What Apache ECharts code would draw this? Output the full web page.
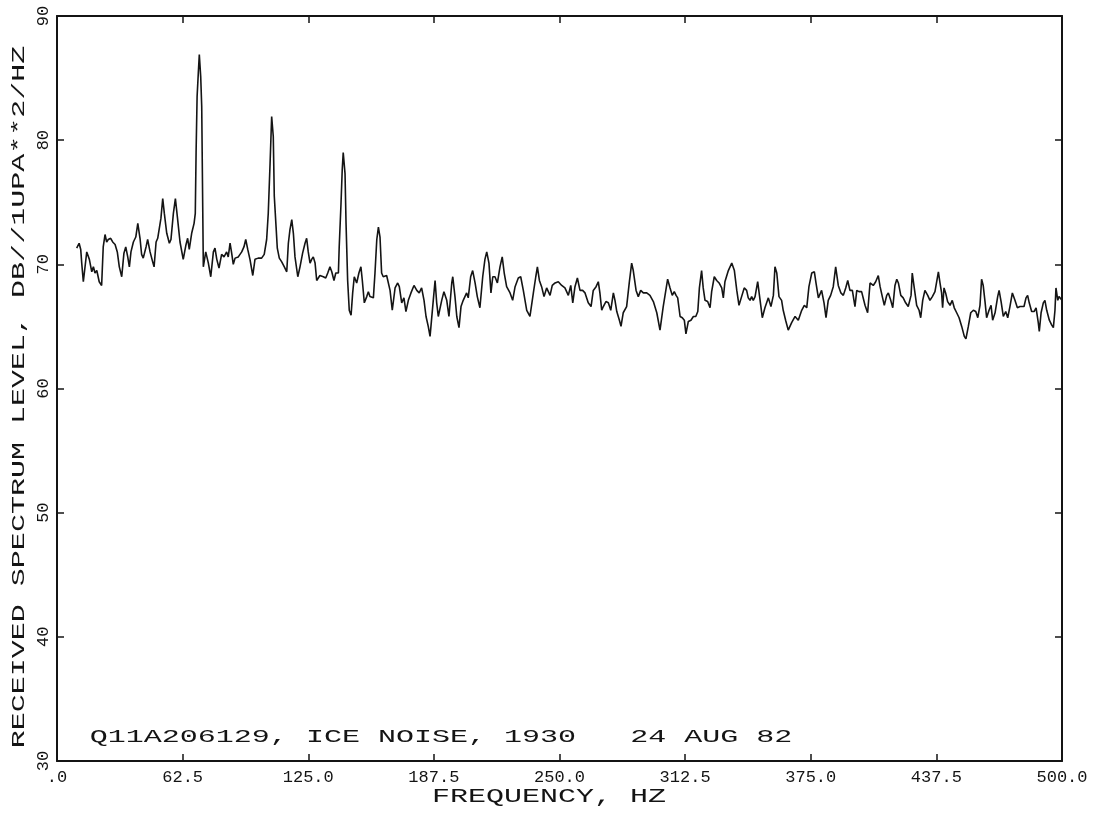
<!DOCTYPE html>
<html>
<head>
<meta charset="utf-8">
<script src="https://cdn.jsdelivr.net/npm/echarts@6/dist/echarts.min.js"></script>
<style>
  html, body { margin: 0; padding: 0; background: #fff; }
  #chart { width: 1120px; height: 813px; }
</style>
</head>
<body>
<div id="chart"></div>
<script>
// Received ice-noise spectrum, frequency (Hz) against level (dB re 1 uPa^2/Hz)
const freqHz = [
  9.8, 11.0, 11.8, 12.3, 13.1, 14.8, 16.1, 17.3, 18.1, 18.9,
  19.8, 21.0, 22.2, 23.0, 23.9, 24.7, 25.5, 26.7, 27.7, 28.9,
  30.0, 31.0, 32.2, 33.3, 34.2, 35.2, 36.0, 36.8, 38.0, 39.2,
  40.2, 41.3, 42.1, 42.9, 44.3, 45.1, 46.3, 47.6, 48.3, 49.3,
  50.1, 50.9, 51.7, 52.6, 53.4, 54.6, 55.9, 56.7, 57.9, 58.9,
  59.9, 61.2, 62.8, 64.2, 65.0, 65.8, 67.0, 68.2, 68.8, 69.2,
  69.7, 70.3, 70.8, 71.5, 72.0, 72.5, 72.8, 74.0, 75.3, 76.5,
  77.8, 78.6, 79.5, 80.6, 81.9, 83.1, 84.4, 85.2, 86.1, 86.9,
  87.7, 88.6, 90.2, 91.9, 93.0, 93.9, 94.9, 96.0, 97.4, 98.5,
  100.1, 101.8, 103.1, 104.3, 105.1, 106.0, 106.8, 107.6, 108.1, 109.0,
  109.6, 110.6, 111.8, 113.1, 114.3, 115.1, 115.9, 116.8, 117.6, 118.4,
  119.8, 120.9, 122.2, 123.4, 124.2, 125.0, 125.9, 126.7, 127.5, 128.4,
  129.2, 130.8, 132.5, 133.7, 134.7, 135.8, 136.7, 137.8, 138.7, 140.0,
  140.4, 141.3, 141.9, 142.4, 143.3, 143.8, 144.6, 145.4, 146.3, 147.1,
  147.9, 149.1, 150.2, 151.2, 151.9, 152.9, 154.1, 154.9, 155.7, 157.4,
  158.2, 159.1, 159.9, 160.7, 161.5, 162.3, 164.0, 164.8, 165.7, 166.8,
  168.2, 169.5, 170.3, 171.5, 172.6, 173.6, 174.8, 176.1, 177.6, 179.0,
  180.2, 181.4, 182.6, 183.6, 184.7, 185.6, 187.2, 188.1, 188.9, 189.7,
  191.4, 192.5, 193.9, 195.0, 196.4, 196.9, 198.0, 198.9, 200.0, 201.0,
  202.1, 203.8, 204.6, 205.8, 206.8, 208.0, 209.1, 210.4, 211.8, 212.9,
  213.8, 214.9, 215.9, 216.8, 217.9, 219.1, 220.4, 221.5, 222.5, 223.7,
  225.4, 226.7, 227.9, 229.5, 230.7, 232.0, 233.7, 235.3, 237.0, 238.2,
  239.0, 240.0, 241.1, 242.3, 243.6, 245.3, 246.4, 247.8, 249.4, 251.1,
  252.7, 254.4, 255.6, 256.6, 257.7, 258.9, 260.2, 261.5, 262.7, 264.3,
  265.7, 266.8, 268.2, 269.3, 270.1, 271.0, 271.8, 273.1, 274.3, 275.5,
  276.8, 277.6, 278.5, 279.8, 280.6, 281.7, 283.4, 284.7, 285.9, 286.7,
  288.1, 289.2, 290.4, 291.7, 293.4, 295.0, 296.7, 298.4, 300.0, 301.6,
  303.8, 305.0, 306.1, 307.1, 308.0, 308.8, 310.0, 311.1, 312.1, 312.9,
  314.1, 315.4, 316.6, 317.8, 318.8, 319.6, 320.7, 321.5, 322.4, 323.7,
  324.9, 325.7, 327.0, 328.2, 329.4, 330.7, 331.5, 332.3, 334.0, 335.7,
  337.0, 338.2, 339.3, 340.6, 341.9, 343.1, 343.9, 344.8, 345.6, 346.4,
  347.3, 348.6, 349.8, 350.9, 352.2, 353.9, 355.2, 356.4, 357.2, 358.1,
  359.2, 360.5, 361.3, 362.5, 363.8, 365.5, 367.2, 368.8, 370.5, 371.8,
  373.0, 374.1, 375.5, 376.8, 377.6, 378.8, 380.4, 381.6, 382.6, 383.7,
  384.9, 386.2, 387.4, 388.7, 390.0, 391.2, 392.4, 393.4, 394.5, 395.7,
  397.0, 397.9, 399.0, 400.3, 401.1, 402.0, 403.3, 404.5, 406.1, 407.3,
  408.6, 409.5, 410.6, 411.6, 412.8, 413.6, 414.8, 415.8, 416.9, 417.8,
  418.6, 419.8, 421.0, 422.2, 423.5, 424.9, 425.5, 426.5, 427.7, 428.9,
  429.7, 430.7, 431.8, 433.2, 434.3, 435.5, 436.8, 438.5, 439.3, 440.1,
  440.6, 441.3, 442.1, 443.1, 444.3, 445.4, 446.4, 447.6, 448.8, 450.1,
  451.4, 452.2, 453.4, 454.6, 455.9, 457.1, 458.1, 459.2, 460.0, 460.8,
  461.7, 462.5, 463.7, 464.7, 465.5, 466.7, 468.0, 468.7, 469.7, 470.8,
  472.0, 473.0, 474.1, 475.3, 476.6, 477.8, 479.1, 480.0, 481.1, 482.1,
  482.9, 483.7, 484.9, 486.1, 487.1, 488.2, 488.7, 489.6, 490.7, 491.5,
  492.4, 493.7, 494.9, 495.7, 496.5, 497.0, 497.9, 498.5, 500.0
];

const levelDb = [
  71.3, 71.7, 71.2, 70.1, 68.6, 71.0, 70.4, 69.4, 69.8, 69.3,
  69.5, 68.6, 68.3, 71.4, 72.4, 71.8, 72.0, 72.1, 71.8, 71.6,
  71.0, 69.8, 69.0, 70.9, 71.4, 70.6, 69.8, 71.0, 71.8, 72.2,
  73.3, 72.1, 70.8, 70.5, 71.4, 72.0, 71.0, 70.2, 69.8, 71.8,
  72.1, 72.0, 73.7, 75.3, 74.1, 72.5, 71.7, 72.0, 74.1, 75.3,
  73.8, 71.8, 70.4, 71.6, 72.1, 71.2, 72.5, 73.3, 74.1, 79.0,
  83.5, 85.4, 86.9, 85.1, 82.7, 74.6, 69.8, 71.0, 70.1, 69.0,
  71.0, 71.3, 70.4, 69.7, 70.8, 70.6, 71.0, 70.6, 71.7, 70.9,
  70.0, 70.5, 70.6, 71.0, 71.4, 72.0, 71.2, 70.4, 69.1, 70.4,
  70.5, 70.5, 70.8, 72.0, 74.1, 78.1, 81.9, 80.3, 75.5, 73.0,
  71.3, 70.5, 70.2, 69.8, 69.4, 71.7, 72.8, 73.6, 72.5, 70.6,
  69.0, 69.8, 70.9, 71.7, 72.1, 71.0, 70.1, 70.4, 70.6, 70.1,
  68.7, 69.1, 69.0, 68.9, 69.3, 69.8, 69.4, 68.7, 69.3, 69.3,
  71.4, 74.9, 77.6, 79.0, 77.3, 73.3, 68.7, 66.3, 65.9, 67.7,
  69.0, 68.5, 69.3, 69.8, 68.7, 66.9, 67.4, 67.8, 67.4, 67.3,
  69.3, 72.0, 73.0, 72.2, 69.3, 69.0, 69.1, 69.0, 67.9, 66.3,
  68.1, 68.5, 68.2, 66.9, 67.3, 66.2, 67.1, 67.7, 68.3, 67.9,
  67.7, 68.1, 67.1, 65.8, 65.0, 64.2, 67.1, 68.7, 66.9, 65.8,
  67.1, 67.8, 67.1, 65.8, 68.5, 69.0, 67.4, 65.8, 64.9, 66.6,
  67.1, 67.7, 67.3, 69.0, 69.5, 68.5, 67.4, 66.5, 69.0, 70.4,
  71.0, 70.1, 67.7, 69.0, 69.0, 68.5, 69.8, 70.6, 69.3, 68.2,
  67.7, 67.1, 68.2, 68.9, 69.0, 67.9, 66.3, 65.8, 67.7, 69.0,
  69.8, 68.7, 68.2, 67.4, 68.1, 67.5, 68.3, 68.5, 68.6, 68.3,
  68.1, 67.5, 68.3, 66.9, 68.2, 68.9, 67.9, 67.9, 67.7, 66.9,
  66.6, 67.9, 68.2, 68.6, 67.7, 66.3, 66.6, 67.0, 66.9, 66.3,
  67.7, 67.1, 66.2, 65.5, 65.0, 66.1, 66.6, 68.5, 70.1, 69.5,
  67.9, 67.4, 67.9, 67.7, 67.7, 67.5, 67.0, 66.1, 64.7, 66.6,
  68.8, 68.1, 67.5, 67.8, 67.5, 67.3, 65.8, 65.7, 65.5, 64.4,
  65.4, 65.5, 65.8, 65.8, 66.2, 68.1, 69.5, 68.1, 67.1, 67.0,
  66.5, 67.8, 69.0, 68.7, 68.5, 68.1, 67.3, 68.6, 69.5, 70.1,
  69.5, 67.9, 66.7, 67.4, 68.1, 67.9, 67.3, 67.1, 67.4, 67.1,
  67.4, 68.6, 67.1, 65.7, 66.5, 67.3, 66.6, 67.5, 69.8, 69.3,
  67.4, 67.1, 66.3, 65.5, 64.7, 65.3, 65.8, 65.5, 66.3, 66.7,
  66.5, 68.2, 69.3, 69.4, 68.5, 67.3, 67.9, 66.9, 65.7, 67.1,
  67.5, 68.2, 69.8, 68.3, 67.7, 67.5, 68.1, 68.7, 67.9, 67.9,
  66.6, 67.9, 67.8, 67.8, 67.7, 66.7, 66.1, 68.5, 68.3, 68.6,
  69.1, 68.2, 67.4, 66.7, 67.5, 67.7, 67.1, 66.5, 68.3, 68.8,
  68.5, 67.5, 67.3, 66.9, 66.6, 67.5, 69.3, 68.1, 66.7, 66.3,
  65.7, 67.1, 67.9, 67.5, 67.1, 67.4, 67.8, 69.4, 68.5, 67.7,
  66.5, 68.1, 67.7, 67.0, 66.7, 67.1, 66.5, 66.1, 65.7, 65.0,
  64.2, 64.0, 65.0, 66.1, 66.3, 66.2, 65.7, 66.7, 68.8, 68.3,
  67.0, 65.7, 66.3, 66.7, 65.5, 66.1, 67.4, 67.9, 67.0, 65.8,
  66.2, 65.7, 66.6, 67.7, 67.1, 66.5, 66.6, 66.7, 66.6, 67.3,
  67.5, 66.9, 66.2, 66.2, 66.5, 65.3, 64.6, 66.1, 66.9, 67.1,
  66.3, 65.5, 65.1, 64.9, 66.3, 68.1, 67.1, 67.4, 67.1
];

// axis tick labels, one per tick (x every 62.5 Hz, y every 10 dB)
const xTickLabels = ['.0', '62.5', '125.0', '187.5', '250.0', '312.5', '375.0', '437.5', '500.0'];
const yTickLabels = ['30', '40', '50', '60', '70', '80', '90'];

const yTitle = 'RECEIVED SPECTRUM LEVEL, DB//1UPA**2/HZ';
const xTitle = 'FREQUENCY, HZ';
const runNote = 'Q11A206129, ICE NOISE, 1930   24 AUG 82';

const INK = '#141414';
const FONT = "'Liberation Mono', 'DejaVu Sans Mono', monospace";

const points = freqHz.map((f, i) => [f, levelDb[i]]);

const frameAxis = {
  axisLine: { show: true, onZero: false, lineStyle: { color: INK, width: 2 } },
  axisTick: { show: true, inside: true, length: 7, lineStyle: { color: INK, width: 1.5 } },
  splitLine: { show: false }
};

function textEl(x, y, rotation, scaleX, text, size) {
  return {
    type: 'text', x: x, y: y, rotation: rotation, scaleX: scaleX, scaleY: 1, silent: true,
    style: {
      text: text, fontFamily: FONT, fontSize: size, fill: INK,
      align: 'center', verticalAlign: 'middle',
      textAlign: 'center', textVerticalAlign: 'middle'
    }
  };
}

const chart = echarts.init(document.getElementById('chart'), null, { renderer: 'canvas' });
chart.setOption({
  animation: false,
  backgroundColor: '#ffffff',
  grid: { left: 57, right: 58, top: 16, bottom: 52, containLabel: false },
  xAxis: [
    Object.assign({
      type: 'value', position: 'bottom', min: 0, max: 500, interval: 62.5,
      axisLabel: {
        color: INK, fontFamily: FONT, fontSize: 17, margin: 8,
        showMinLabel: true, showMaxLabel: true,
        formatter: v => xTickLabels[Math.round(v / 62.5)]
      }
    }, frameAxis),
    Object.assign({
      type: 'value', position: 'top', min: 0, max: 500, interval: 62.5,
      axisLabel: { show: false }
    }, frameAxis)
  ],
  yAxis: [
    Object.assign({
      type: 'value', position: 'left', min: 30, max: 90, interval: 10,
      axisLabel: {
        color: INK, fontFamily: FONT, fontSize: 17, margin: 5, rotate: 90,
        showMinLabel: true, showMaxLabel: true,
        formatter: v => yTickLabels[Math.round((v - 30) / 10)]
      }
    }, frameAxis),
    Object.assign({
      type: 'value', position: 'right', min: 30, max: 90, interval: 10,
      axisLabel: { show: false }
    }, frameAxis)
  ],
  series: [{
    type: 'line',
    xAxisIndex: 0, yAxisIndex: 0,
    data: points,
    symbol: 'none', showSymbol: false,
    lineStyle: { color: INK, width: 1.6 },
    silent: true
  }],
  graphic: [
    textEl(19, 397, Math.PI / 2, 1.58, yTitle, 19),
    textEl(549, 797, 0, 1.5, xTitle, 20),
    textEl(441, 737, 0, 1.58, runNote, 19)
  ]
});
</script>
</body>
</html>
